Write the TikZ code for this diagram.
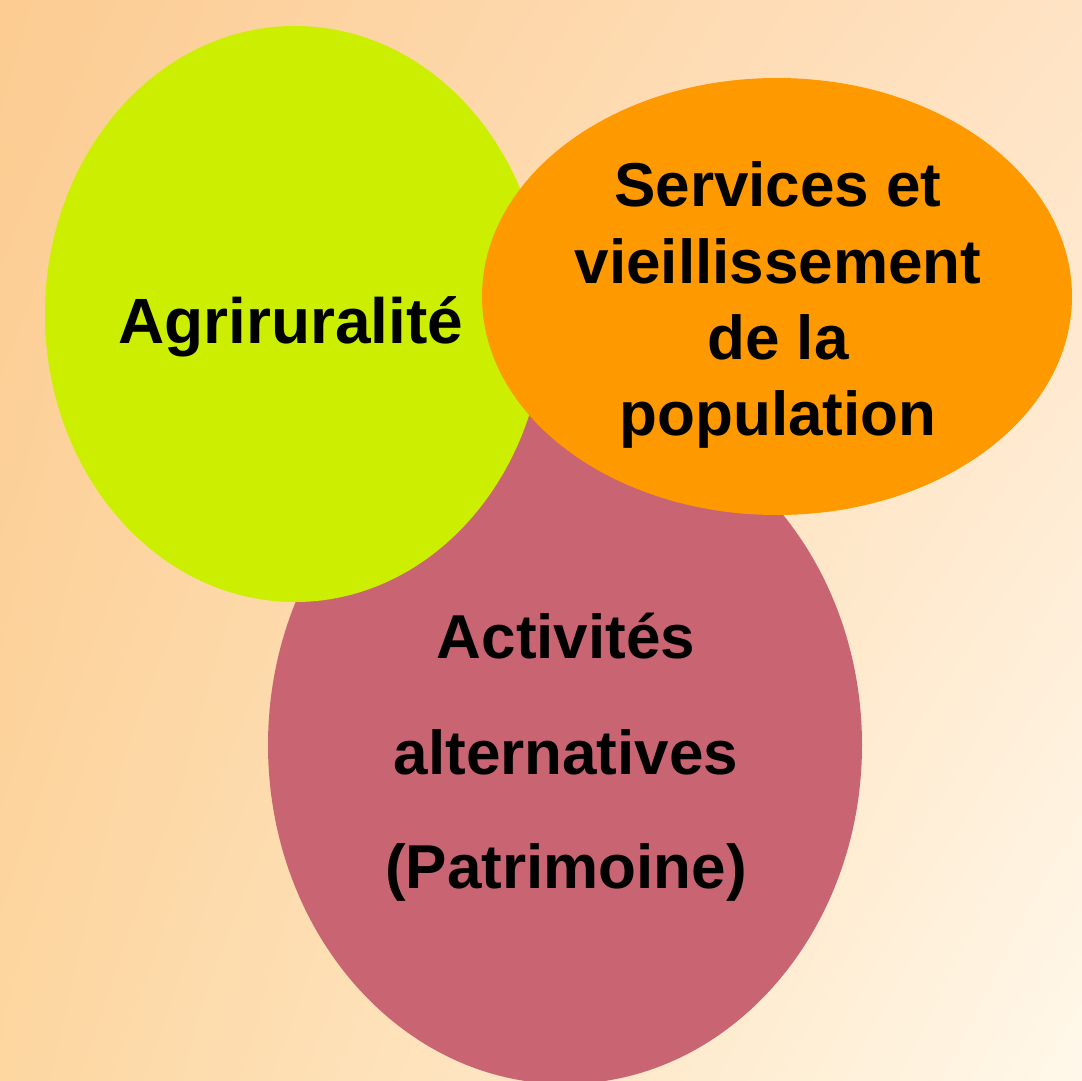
\documentclass[tikz,border=0pt]{standalone}
\usepackage{fontspec}
\setmainfont{Liberation Sans}
\usetikzlibrary{shapes.geometric,shadings}
\definecolor{bgTL}{HTML}{FCCC92}
\definecolor{bgTR}{HTML}{FFE3C4}
\definecolor{bgBL}{HTML}{FDD6A0}
\definecolor{bgBR}{HTML}{FFF8EA}
\definecolor{agrigreen}{HTML}{CCEE00}
\definecolor{servorange}{HTML}{FF9900}
\definecolor{actpink}{HTML}{C96573}
\tikzset{
  blob/.style={ellipse, draw=none, inner sep=0pt, outer sep=0pt},
  label/.style={font=\bfseries\fontsize{64}{77}\selectfont, text=black, anchor=base, inner sep=0pt},
  smalllabel/.style={label, font=\bfseries\fontsize{62}{75}\selectfont}
}
\begin{document}
\begin{tikzpicture}[x=1pt,y=-1pt]
\useasboundingbox (0,0) rectangle (1082,1080);
\shade[upper left=bgTL, upper right=bgTR, lower left=bgBL, lower right=bgBR] (0,0) rectangle (1082,1080);
\node[blob, fill=actpink, minimum width=594pt, minimum height=678pt] (act) at (565,745) {};
\node[blob, fill=agrigreen, minimum width=500pt, minimum height=576pt] (agri) at (295,314) {};
\node[blob, fill=servorange, minimum width=590pt, minimum height=437pt] (serv) at (777,296.5) {};
\node[label] (agritext) at (291,343) {Agriruralité};
\node[smalllabel] (s1) at (778,206) {Services et};
\node[smalllabel] (s2) at (778,283) {vieillissement};
\node[smalllabel] (s3) at (778,359) {de la};
\node[smalllabel] (s4) at (778,435) {population};
\node[smalllabel] (a1) at (566,658) {Activités};
\node[smalllabel] (a2) at (566,774) {alternatives};
\node[smalllabel] (a3) at (566,888) {(Patrimoine)};
\end{tikzpicture}
\end{document}
